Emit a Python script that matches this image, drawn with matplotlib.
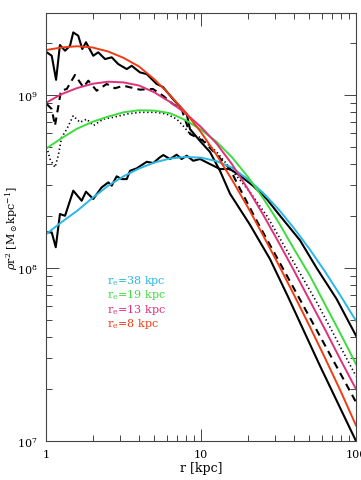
import matplotlib
matplotlib.use("Agg")
import matplotlib.pyplot as plt
import matplotlib.ticker as ticker
import numpy as np

plt.rcParams['font.family'] = 'serif'
plt.rcParams['font.serif'] = ['DejaVu Serif']
plt.rcParams['mathtext.fontset'] = 'dejavuserif'

# model fits, log10(r/kpc) vs log10(rho r^2)
log_r_fit = [0.0, 0.1, 0.2, 0.3, 0.4, 0.5, 0.6, 0.7, 0.8, 0.9, 1.0,
             1.1, 1.2, 1.3, 1.4, 1.5, 1.6, 1.7, 1.8, 1.9, 2.0]
fit_re8 = [9.26, 9.275, 9.282, 9.275, 9.252, 9.215, 9.165, 9.09, 9.00, 8.90, 8.785,
           8.655, 8.51, 8.355, 8.19, 8.02, 7.845, 7.665, 7.48, 7.29, 7.09]
fit_re13 = [8.955, 9.005, 9.04, 9.065, 9.077, 9.073, 9.055, 9.015, 8.96, 8.895, 8.815,
            8.72, 8.60, 8.46, 8.31, 8.15, 7.985, 7.815, 7.645, 7.47, 7.30]
fit_re19 = [8.69, 8.75, 8.805, 8.845, 8.875, 8.90, 8.912, 8.91, 8.895, 8.855, 8.80,
            8.73, 8.64, 8.53, 8.405, 8.265, 8.11, 7.96, 7.79, 7.62, 7.445]
fit_re38 = [8.195, 8.265, 8.33, 8.405, 8.475, 8.53, 8.575, 8.61, 8.633, 8.642, 8.638,
            8.618, 8.58, 8.515, 8.435, 8.34, 8.23, 8.11, 7.98, 7.84, 7.695]

# simulated profiles
log_r_sim8 = [0.005, 0.037, 0.065, 0.090, 0.123, 0.155, 0.176, 0.208, 0.234, 0.258,
              0.305, 0.337, 0.381, 0.424, 0.466, 0.521, 0.553, 0.606, 0.650, 0.714,
              0.755, 0.819, 0.908, 0.929, 0.994, 1.058, 1.123, 1.187, 1.316, 1.445,
              1.561, 1.768, 2.0]
sim8 = [9.247, 9.227, 9.088, 9.289, 9.256, 9.285, 9.362, 9.343, 9.266, 9.305,
        9.227, 9.247, 9.208, 9.218, 9.179, 9.150, 9.169, 9.131, 9.121, 9.064,
        9.046, 8.977, 8.890, 8.803, 8.734, 8.671, 8.561, 8.430, 8.250, 8.052,
        7.835, 7.434, 7.0]

log_r_sim13 = [0.005, 0.037, 0.058, 0.097, 0.134, 0.187, 0.241, 0.273, 0.327, 0.392,
               0.445, 0.499, 0.606, 0.690, 0.755, 0.819, 0.875, 0.929, 1.013, 1.103,
               1.187, 1.252, 1.361, 1.490, 1.619, 2.0]
sim13 = [8.948, 8.919, 8.823, 9.025, 9.035, 9.116, 9.045, 9.083, 9.025, 9.064,
         9.039, 9.054, 9.031, 9.035, 8.996, 8.948, 8.919, 8.775, 8.736, 8.653,
         8.572, 8.457, 8.27, 8.06, 7.85, 7.225]

log_r_sim19 = [0.005, 0.026, 0.058, 0.079, 0.101, 0.134, 0.176, 0.219, 0.263, 0.305,
               0.370, 0.434, 0.521, 0.606, 0.714, 0.779, 0.843, 0.884, 0.929, 0.994,
               1.101, 1.316, 1.426, 1.555, 1.748, 2.0]
sim19 = [8.699, 8.630, 8.582, 8.649, 8.755, 8.803, 8.880, 8.842, 8.861, 8.823,
         8.861, 8.871, 8.890, 8.900, 8.900, 8.890, 8.861, 8.823, 8.775, 8.755,
         8.671, 8.439, 8.30, 8.10, 7.80, 7.375]

log_r_sim38 = [0.005, 0.037, 0.063, 0.090, 0.123, 0.176, 0.230, 0.258, 0.305, 0.359,
               0.402, 0.424, 0.456, 0.488, 0.521, 0.542, 0.585, 0.650, 0.692, 0.735,
               0.757, 0.800, 0.843, 0.875, 0.908, 0.950, 0.994, 1.058, 1.123, 1.187,
               1.252, 1.335, 1.424, 1.510, 1.639, 1.746, 1.875, 2.0]
sim38 = [8.206, 8.206, 8.120, 8.312, 8.302, 8.447, 8.389, 8.441, 8.399, 8.466,
         8.495, 8.476, 8.530, 8.514, 8.514, 8.562, 8.576, 8.614, 8.607, 8.640,
         8.653, 8.630, 8.655, 8.630, 8.649, 8.620, 8.630, 8.601, 8.572, 8.572,
         8.534, 8.476, 8.399, 8.302, 8.16, 8.0, 7.821, 7.609]

labels = ['r$_{\\rm e}$=38 kpc', 'r$_{\\rm e}$=19 kpc', 'r$_{\\rm e}$=13 kpc', 'r$_{\\rm e}$=8 kpc']
colors = ['#2ab7e6', '#3ddc3d', '#e0307a', '#f03c14']


def lin(v):
    return 10 ** np.asarray(v)


fig = plt.figure(figsize=(3.61, 4.81), dpi=100)
ax = fig.add_axes([0.1274, 0.0811, 0.8587, 0.8898])

ax.plot(lin(log_r_sim8), lin(sim8), color='black', lw=1.5, ls='-')
ax.plot(lin(log_r_sim13), lin(sim13), color='black', lw=1.5, ls=(0, (3.5, 2.5)))
ax.plot(lin(log_r_sim19), lin(sim19), color='black', lw=1.2, ls=(0, (0.8, 1.6)))
ax.plot(lin(log_r_sim38), lin(sim38), color='black', lw=1.5, ls='-')

for fit, c in zip([fit_re38, fit_re19, fit_re13, fit_re8], colors):
    ax.plot(lin(log_r_fit), lin(fit), color=c, lw=1.4)

ax.set_xscale('log')
ax.set_yscale('log')
ax.set_xlim(1, 100)
ax.set_ylim(1e7, 2.98e9)

ax.xaxis.set_major_formatter(ticker.FuncFormatter(lambda v, p: f'{v:g}'))
ax.xaxis.set_minor_formatter(ticker.NullFormatter())
ax.yaxis.set_minor_formatter(ticker.NullFormatter())
ax.tick_params(which='both', direction='in', top=True, right=True,
               labelsize=8, width=0.7, color='#444444')
ax.tick_params(which='major', length=9, pad=6)
ax.tick_params(which='minor', length=4.5)
for s in ax.spines.values():
    s.set_linewidth(0.8)
    s.set_color('#444444')

ax.set_xlabel('r [kpc]', fontsize=9, labelpad=1)
ax.set_ylabel('$\\rho$r$^2$ [M$_\\odot$kpc$^{-1}$]', fontsize=8)
ax.yaxis.set_label_coords(-0.085, 0.5)

ypos = [0.377, 0.343, 0.309, 0.275]
for lab, c, y in zip(labels, colors, ypos):
    ax.text(0.196, y, lab, color=c, fontsize=8, transform=ax.transAxes, va='center')

fig.savefig('out.png', dpi=100)
